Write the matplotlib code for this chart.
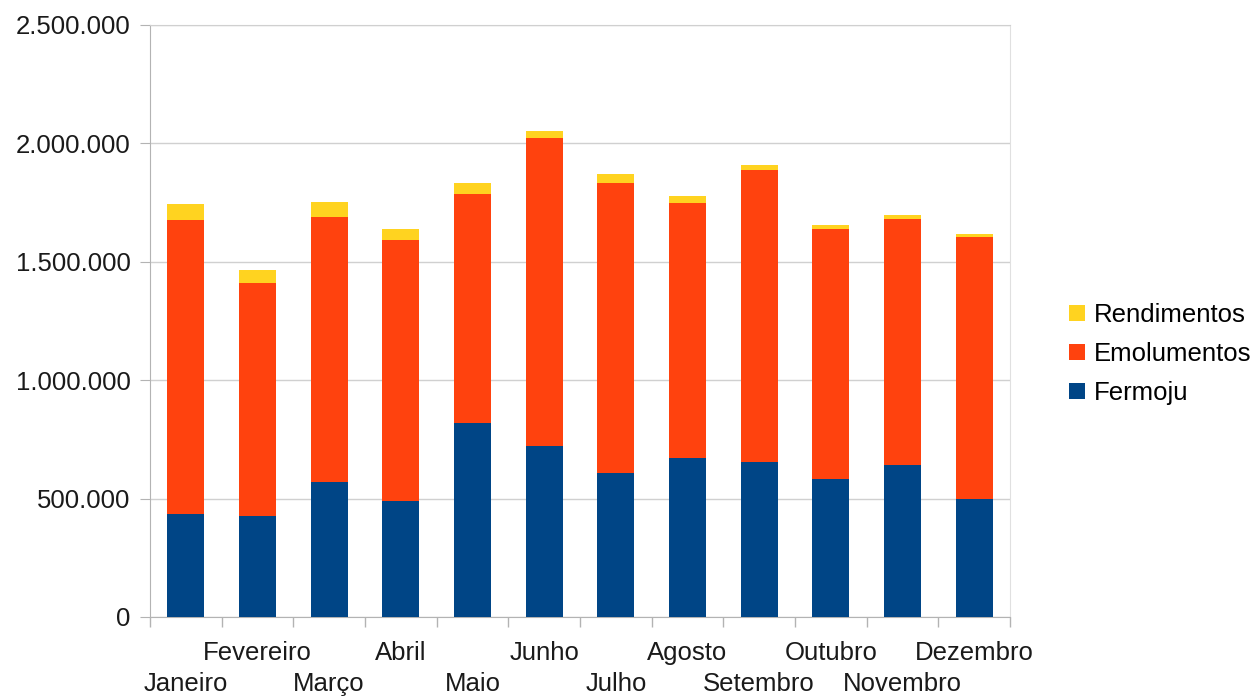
import matplotlib
matplotlib.use("Agg")
import matplotlib.pyplot as plt
from matplotlib.ticker import FuncFormatter, FixedLocator
from matplotlib.transforms import ScaledTranslation
import numpy as np

# Monthly values
months = ["Janeiro", "Fevereiro", "Março", "Abril", "Maio", "Junho",
          "Julho", "Agosto", "Setembro", "Outubro", "Novembro", "Dezembro"]
fermoju = [434200, 428300, 572000, 489200, 819000, 723000,
           610100, 672300, 655300, 582200, 642700, 500200]
emolumentos = [1242200, 980300, 1115800, 1102600, 969400, 1298000,
               1223600, 1073900, 1230400, 1057000, 1038800, 1103500]
rendimentos = [66400, 56300, 64700, 48200, 45300, 31000,
               35100, 30800, 21100, 18200, 18200, 12700]

colors = {"Fermoju": "#004586", "Emolumentos": "#ff420e", "Rendimentos": "#ffd320"}

plt.rcParams["font.family"] = ["Liberation Sans", "DejaVu Sans"]
fs = 18.5

fig = plt.figure(figsize=(12.6, 6.96), dpi=100)
ax = fig.add_axes([150 / 1260, 79 / 696, 860 / 1260, 592 / 696])

x = np.arange(len(months))
width = 0.52
f = np.array(fermoju)
e = np.array(emolumentos)
r = np.array(rendimentos)

b1 = ax.bar(x, f, width, color=colors["Fermoju"], label="Fermoju", zorder=3)
b2 = ax.bar(x, e, width, bottom=f, color=colors["Emolumentos"], label="Emolumentos", zorder=3)
b3 = ax.bar(x, r, width, bottom=f + e, color=colors["Rendimentos"], label="Rendimentos", zorder=3)

ax.set_xlim(-0.5, len(months) - 0.5)
ax.set_ylim(0, 2500000)
ax.set_yticks(np.arange(0, 2500001, 500000))
ax.yaxis.set_major_formatter(FuncFormatter(lambda v, p: f"{int(v):,}".replace(",", ".")))

ax.set_xticks(x)
ax.set_xticklabels(months)
ax.xaxis.set_minor_locator(FixedLocator(np.arange(-0.5, len(months), 1)))
ax.tick_params(axis="x", which="major", length=0, pad=17, labelsize=fs, colors="#1a1a1a")
ax.tick_params(axis="x", which="minor", length=7, color="#b3b3b3", width=1)
ax.tick_params(axis="y", length=7, color="#b3b3b3", pad=7, labelsize=fs, labelcolor="#1a1a1a")

# staggered category labels: every other month one row lower
shift = ScaledTranslation(0, -31 / 100, fig.dpi_scale_trans)
for i, lab in enumerate(ax.get_xticklabels()):
    if i % 2 == 0:
        lab.set_transform(lab.get_transform() + shift)

ax.grid(axis="y", color="#d0d0d0", linewidth=1, zorder=0)
ax.set_axisbelow(True)
for side in ["left", "bottom"]:
    ax.spines[side].set_color("#b3b3b3")
ax.spines["right"].set_color("#e0e0e0")
ax.spines["top"].set_color("#d0d0d0")

handles = [b3, b2, b1]
leg = fig.legend(handles, [h.get_label() for h in handles],
                 loc="center left", bbox_to_anchor=(1069 / 1260, 1 - 354 / 696),
                 frameon=False, fontsize=fs, handlelength=0.62, handleheight=0.62,
                 handletextpad=0.35, labelspacing=0.58, borderpad=0, borderaxespad=0)

fig.savefig("out.png", dpi=100)
